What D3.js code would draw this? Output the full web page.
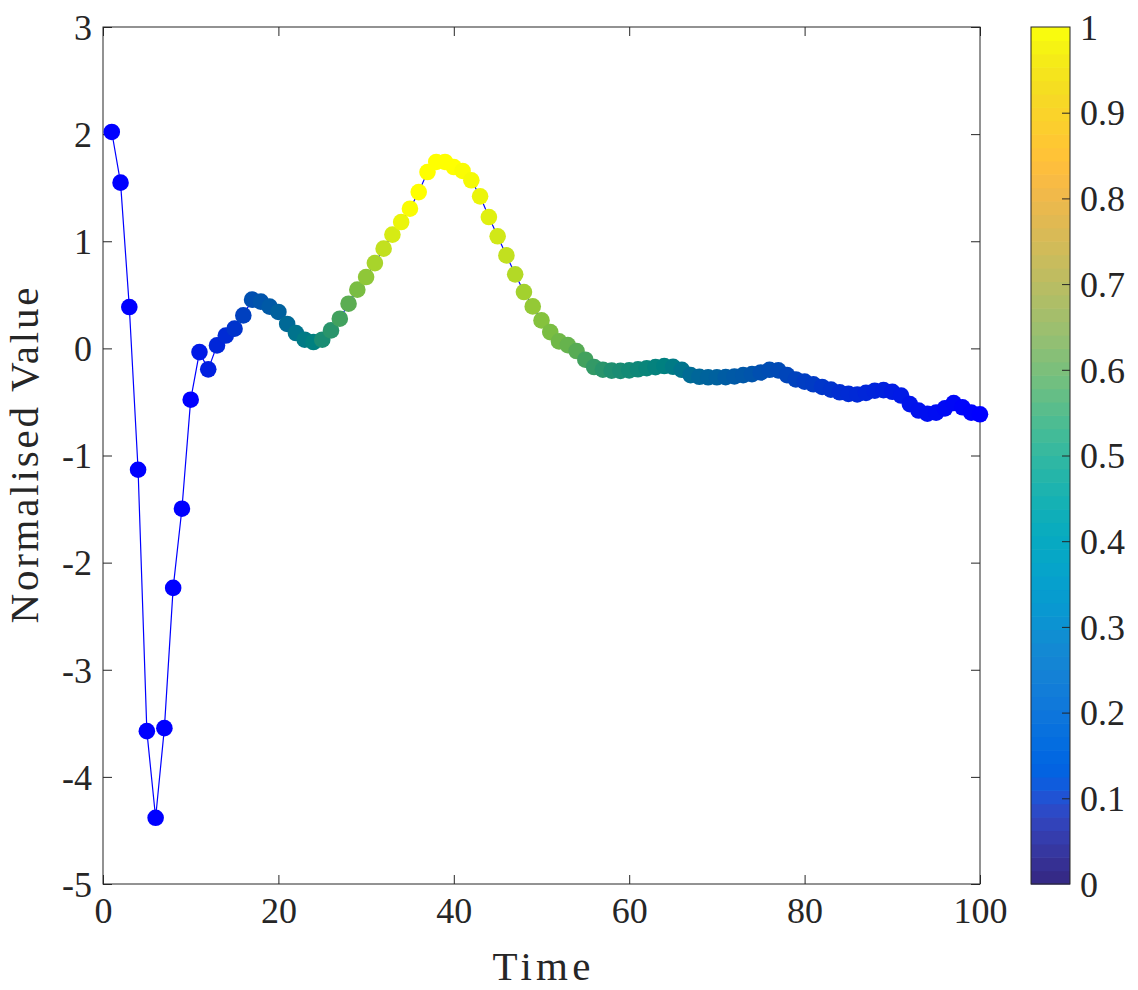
<!DOCTYPE html>
<html><head><meta charset="utf-8">
<script src="https://cdn.jsdelivr.net/npm/d3@7"></script>
<style>
body{margin:0;background:#fff}
svg text{font-family:"Liberation Serif","Times New Roman",serif;fill:#262626}
</style>
</head><body>
<svg id="chart" width="1138" height="990"></svg>
<script>
// ---- data ----
const timeSteps = d3.range(1, 101);
const normalisedValues = [
  2.02, 1.547, 0.386, -1.133, -3.573, -4.382, -3.545, -2.236, -1.497, -0.479,
  -0.035, -0.196, 0.028, 0.12, 0.184, 0.308, 0.455, 0.436, 0.39, 0.34,
  0.228, 0.143, 0.081, 0.059, 0.081, 0.168, 0.277, 0.417, 0.548, 0.666,
  0.796, 0.931, 1.062, 1.179, 1.304, 1.459, 1.646, 1.74, 1.74, 1.693,
  1.656, 1.569, 1.419, 1.226, 1.046, 0.868, 0.691, 0.526, 0.392, 0.261,
  0.152, 0.065, 0.03, -0.025, -0.106, -0.174, -0.199, -0.208, -0.21, -0.205,
  -0.195, -0.185, -0.175, -0.165, -0.172, -0.2, -0.25, -0.265, -0.27, -0.27,
  -0.268, -0.262, -0.25, -0.24, -0.225, -0.2, -0.205, -0.25, -0.29, -0.31,
  -0.335, -0.36, -0.385, -0.41, -0.425, -0.43, -0.415, -0.395, -0.39, -0.405,
  -0.44, -0.52, -0.58, -0.61, -0.6, -0.56, -0.51, -0.55, -0.6, -0.615
];
const colourValues = [
  0, 0, 0, 0, 0, 0, 0, 0, 0, 0,
  0.1, 0.12, 0.15, 0.17, 0.2, 0.25, 0.31, 0.33, 0.35, 0.38,
  0.41, 0.45, 0.48, 0.5, 0.55, 0.58, 0.63, 0.68, 0.74, 0.78,
  0.83, 0.88, 0.92, 0.96, 0.99, 1, 1, 1, 1, 1,
  0.99, 0.98, 0.96, 0.94, 0.91, 0.88, 0.85, 0.82, 0.79, 0.76,
  0.74, 0.72, 0.7, 0.67, 0.63, 0.6, 0.58, 0.56, 0.55, 0.54,
  0.53, 0.52, 0.51, 0.5, 0.48, 0.45, 0.42, 0.4, 0.39, 0.38,
  0.36, 0.35, 0.34, 0.33, 0.31, 0.3, 0.29, 0.27, 0.26, 0.24,
  0.23, 0.21, 0.2, 0.18, 0.17, 0.16, 0.15, 0.14, 0.13, 0.11,
  0.1, 0.08, 0.07, 0.06, 0.05, 0.04, 0.03, 0.02, 0.01, 0
];
const xTicks = [0, 20, 40, 60, 80, 100];
const yTicks = [-5, -4, -3, -2, -1, 0, 1, 2, 3];
const cbTicks = [0, 0.1, 0.2, 0.3, 0.4, 0.5, 0.6, 0.7, 0.8, 0.9, 1];
const xLabel = "Time";
const yLabel = "Normalised Value";

// parula(64) colormap for the colorbar
const PARULA = [
[0.2081,0.1663,0.5292],[0.2116,0.1898,0.5777],[0.2123,0.2138,0.6270],[0.2081,0.2386,0.6771],
[0.1959,0.2645,0.7279],[0.1707,0.2919,0.7792],[0.1253,0.3242,0.8303],[0.0591,0.3598,0.8683],
[0.0117,0.3875,0.8820],[0.0060,0.4086,0.8828],[0.0165,0.4266,0.8786],[0.0329,0.4430,0.8720],
[0.0498,0.4586,0.8641],[0.0629,0.4737,0.8554],[0.0723,0.4887,0.8467],[0.0779,0.5040,0.8384],
[0.0793,0.5200,0.8312],[0.0749,0.5375,0.8263],[0.0641,0.5570,0.8240],[0.0488,0.5772,0.8228],
[0.0343,0.5966,0.8199],[0.0265,0.6137,0.8135],[0.0239,0.6287,0.8038],[0.0231,0.6418,0.7913],
[0.0228,0.6535,0.7768],[0.0267,0.6642,0.7607],[0.0384,0.6743,0.7436],[0.0590,0.6838,0.7254],
[0.0843,0.6928,0.7062],[0.1133,0.7015,0.6859],[0.1453,0.7098,0.6646],[0.1801,0.7177,0.6424],
[0.2178,0.7250,0.6193],[0.2586,0.7317,0.5954],[0.3022,0.7376,0.5712],[0.3482,0.7424,0.5473],
[0.3953,0.7459,0.5244],[0.4420,0.7481,0.5033],[0.4871,0.7491,0.4840],[0.5300,0.7491,0.4661],
[0.5709,0.7485,0.4494],[0.6099,0.7473,0.4337],[0.6473,0.7456,0.4188],[0.6834,0.7435,0.4044],
[0.7184,0.7411,0.3905],[0.7525,0.7384,0.3768],[0.7858,0.7356,0.3633],[0.8185,0.7327,0.3498],
[0.8507,0.7299,0.3360],[0.8824,0.7274,0.3217],[0.9139,0.7258,0.3063],[0.9450,0.7261,0.2886],
[0.9739,0.7314,0.2666],[0.9938,0.7455,0.2403],[0.9990,0.7653,0.2164],[0.9955,0.7861,0.1967],
[0.9880,0.8066,0.1794],[0.9789,0.8271,0.1633],[0.9697,0.8481,0.1475],[0.9626,0.8705,0.1309],
[0.9589,0.8949,0.1132],[0.9598,0.9218,0.0948],[0.9661,0.9514,0.0755],[0.9763,0.9831,0.0538]
];

// ---- layout ----
const plot = {left: 103, right: 980, top: 27, bottom: 884};
const cb = {left: 1031, right: 1070};
const axisColor = "#262626";
const tickLen = 9;

const svg = d3.select("#chart");
const x = d3.scaleLinear().domain([0, 100]).range([plot.left, plot.right]);
const y = d3.scaleLinear().domain([-5, 3]).range([plot.bottom, plot.top]);
const cbScale = d3.scaleLinear().domain([0, 1]).range([plot.bottom, plot.top]);

// marker colour: blue -> teal -> green -> yellow
function markerColor(c) {
  const r = Math.max(0, 2 * c - 1);
  return d3.rgb(255 * r, 255 * c, 255 * (1 - c)).toString();
}

const pts = timeSteps.map((t, i) => ({t, v: normalisedValues[i], c: colourValues[i]}));

// axes box
svg.append("rect")
  .attr("x", plot.left).attr("y", plot.top)
  .attr("width", plot.right - plot.left).attr("height", plot.bottom - plot.top)
  .attr("fill", "none").attr("stroke", axisColor).attr("stroke-width", 1);

function styleAxis(g) {
  g.select(".domain").remove();
  g.selectAll(".tick line").attr("stroke", axisColor).attr("stroke-width", 1);
  g.selectAll(".tick text").attr("fill", axisColor).style("font-size", "36px");
}

svg.append("g").attr("transform", `translate(0,${plot.bottom})`)
  .call(d3.axisBottom(x).tickValues(xTicks).tickFormat(d3.format("d")).tickSizeInner(-tickLen).tickSizeOuter(0).tickPadding(13))
  .call(styleAxis);
svg.append("g").attr("transform", `translate(0,${plot.top})`)
  .call(d3.axisTop(x).tickValues(xTicks).tickFormat("").tickSizeInner(-tickLen).tickSizeOuter(0))
  .call(styleAxis);
svg.append("g").attr("transform", `translate(${plot.left},0)`)
  .call(d3.axisLeft(y).tickValues(yTicks).tickFormat(d => String(d)).tickSizeInner(-tickLen).tickSizeOuter(0).tickPadding(11))
  .call(styleAxis)
  .call(g => g.selectAll(".tick text").attr("dy", "0.34em"));
svg.append("g").attr("transform", `translate(${plot.right},0)`)
  .call(d3.axisRight(y).tickValues(yTicks).tickFormat("").tickSizeInner(-tickLen).tickSizeOuter(0))
  .call(styleAxis);

// line
svg.append("path")
  .datum(pts)
  .attr("fill", "none")
  .attr("stroke", "#0000ff")
  .attr("stroke-width", 1.2)
  .attr("d", d3.line().x(d => x(d.t)).y(d => y(d.v)));

// markers
svg.append("g").selectAll("circle").data(pts).join("circle")
  .attr("cx", d => x(d.t)).attr("cy", d => y(d.v))
  .attr("r", 8.3)
  .attr("fill", d => markerColor(d.c));

// axis titles
svg.append("text")
  .attr("x", (plot.left + plot.right) / 2).attr("y", 980)
  .attr("text-anchor", "middle").style("font-size", "41px")
  .attr("textLength", 98).attr("lengthAdjust", "spacing")
  .text(xLabel);
svg.append("text")
  .attr("transform", `translate(38,${(plot.top + plot.bottom) / 2}) rotate(-90)`)
  .attr("text-anchor", "middle").style("font-size", "41px")
  .attr("textLength", 336).attr("lengthAdjust", "spacing")
  .text(yLabel);

// colorbar
const nC = PARULA.length;
const bandH = (plot.bottom - plot.top) / nC;
svg.append("g").selectAll("rect").data(PARULA).join("rect")
  .attr("x", cb.left)
  .attr("y", (d, i) => cbScale((i + 1) / nC))
  .attr("width", cb.right - cb.left)
  .attr("height", bandH + 0.6)
  .attr("fill", d => d3.rgb(d[0] * 255, d[1] * 255, d[2] * 255).toString());
svg.append("rect")
  .attr("x", cb.left).attr("y", plot.top)
  .attr("width", cb.right - cb.left).attr("height", plot.bottom - plot.top)
  .attr("fill", "none").attr("stroke", axisColor).attr("stroke-width", 1);
svg.append("g").attr("transform", `translate(${cb.right},0)`)
  .call(d3.axisRight(cbScale).tickValues(cbTicks).tickFormat(d => String(+d.toFixed(1))).tickSizeInner(-8).tickSizeOuter(0).tickPadding(10))
  .call(styleAxis)
  .call(g => g.selectAll(".tick text").attr("dy", "0.34em"))
  .call(g => g.selectAll(".tick").filter(d => d === 0 || d === 1).select("line").remove());
</script>
</body></html>
